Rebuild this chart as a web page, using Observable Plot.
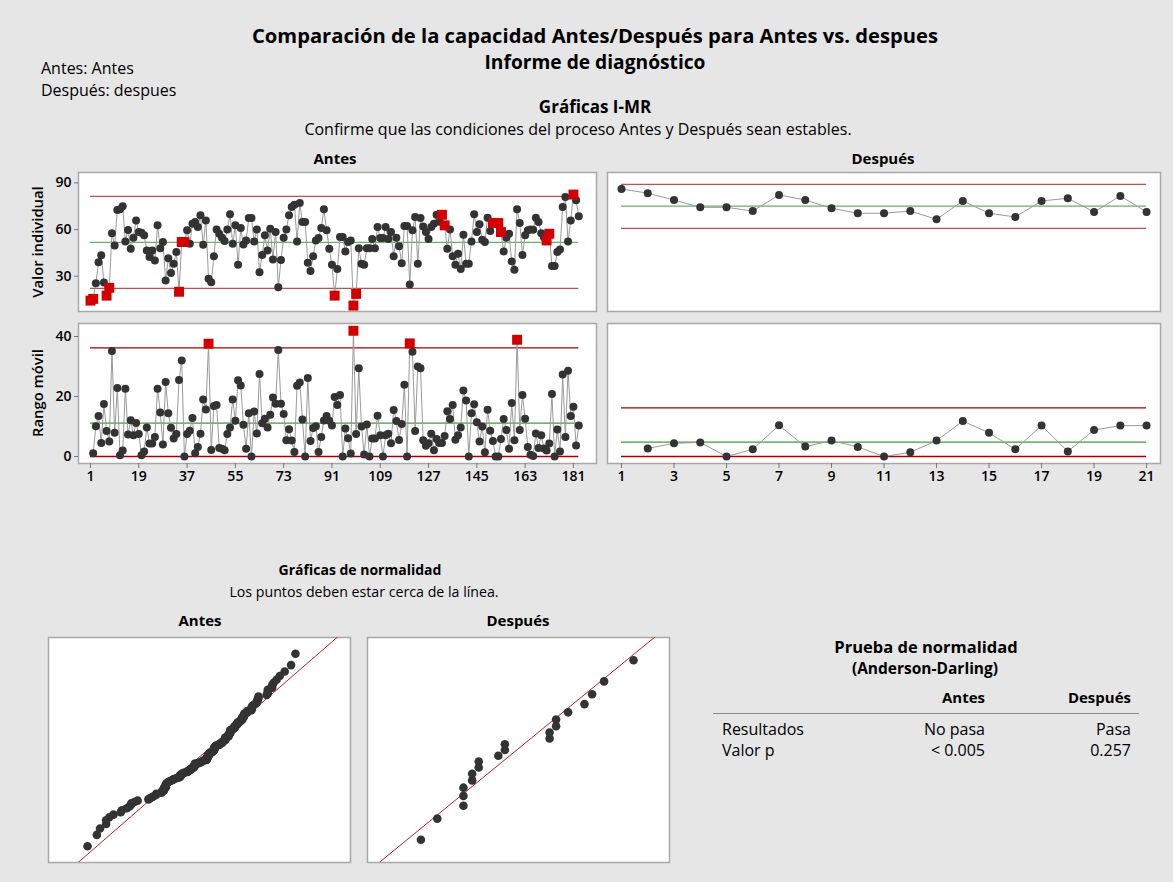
<!DOCTYPE html>
<html><head><meta charset="utf-8">
<script src="https://cdn.jsdelivr.net/npm/d3@7"></script>
<script src="https://cdn.jsdelivr.net/npm/@observablehq/plot@0.6"></script>
<style>
html,body{margin:0;padding:0;background:#e6e6e6;}
#root{position:relative;width:1173px;height:882px;background:#e6e6e6;font-family:"Open Sans",sans-serif;color:#000;overflow:hidden;}
.t{position:absolute;white-space:nowrap;line-height:1;}
.p{position:absolute;}
</style></head><body><div id="root"></div>
<script>
// ---------------- DATA ----------------
const antes = [
  14.3,15.4,25.5,39,43.5,26,17.5,22.5,57.7,49.8,72.6,73,75,52.4,59.7,47.6,54.7,65.9,58.4,58,
  56.3,46.6,42.3,46.6,40.1,62.7,48,52,27.2,41.6,32,38,45.5,20,52,52,59.5,50.9,63.7,64.8,
  61.6,69.2,50.2,65.9,28.3,26.1,
  42.9,60.1,57.3,54.7,52.6,60.1,69.8,50.8,62.7,37.3,61,50.4,53,67.4,67.4,52.4,60.1,32.6,43.7,56.3,
  46.6,60.5,40.8,58.4,22.9,40.5,54.7,60.1,69.2,74.5,76,52.4,77.1,64.8,64.8,38.6,33.4,42.9,53,54.5,
  61,73,59.5,47.6,37.3,17.5,34.7,
  55.2,55.2,45.9,52,53,11.1,18.6,48,38,37.3,48,48,54,48,61.6,54.5,54.5,61.6,54,58.4,
  42.9,54.7,49.2,38.4,62.3,62.3,24.6,59.5,68,38,67.4,62,58.4,54,61.6,63.7,69.5,65,69.5,62.7,
  47.6,60.1,42.9,37.3,44.4,
  34.7,56.7,38,38,52.4,69.8,58.4,63.4,53.4,52,67.6,59,64.2,64.2,64.2,58.4,45.9,54.7,57.3,39.5,
  34.1,73,64.2,43.7,56.3,59.5,60.1,59.9,67.6,64.8,57.7,55,53,57.3,36.5,36.5,45.5,47.2,74.5,81,
  52.4,65.9,82.5,78.8,68.5
];
const antesFlagged = [1,2,7,8,34,35,36,92,99,100,132,133,151,152,153,154,171,172,181];
const despues = [86.1,83.4,79,74.3,74.3,71.9,82.3,79,73.7,70.5,70.5,71.9,66.6,78.4,70.5,68.1,78.4,80.1,71.3,81.6,71.3];

// control limits [LCL, CL, UCL]
const antesILimits = [22.2, 51.7, 81.4];
const antesMRLimits = [0, 11.1, 36.2];
const despuesILimits = [60.7, 75.1, 89.0];
const despuesMRLimits = [0, 4.8, 16.2];

// tick labels
const iTicks = [30, 60, 90];
const mrTicks = [0, 20, 40];
const antesXTicks = [1,19,37,55,73,91,109,127,145,163,181];
const despuesXTicks = [1,3,5,7,9,11,13,15,17,19,21];

// table
const tableHeader = ["", "Antes", "Después"];
const tableRows = [["Resultados", "No pasa", "Pasa"], ["Valor p", "< 0.005", "0.257"]];

// ---------------- HELPERS ----------------
const root = document.getElementById("root");
const FONT = "Open Sans";
function txt(s, x, y, {size=16, weight=400, anchor="middle", rotate=0}={}) {
  const d = document.createElement("div");
  d.className = "t"; d.textContent = s;
  d.style.left = x + "px"; d.style.top = y + "px";
  d.style.fontSize = size + "px"; d.style.fontWeight = weight;
  const tx = anchor === "middle" ? "-50%" : anchor === "end" ? "-100%" : "0";
  d.style.transform = `translate(${tx},-50%)` + (rotate ? ` rotate(${rotate}deg)` : "");
  root.append(d);
}
function panel({left, top, w, h, ml=2, mr=2, mt=2, mb=2, x, y, marks}) {
  const svg = Plot.plot({
    width: ml + w + mr, height: mt + h + mb,
    marginLeft: ml, marginRight: mr, marginTop: mt, marginBottom: mb,
    x: {...x, axis: null}, y: {...y, axis: null},
    style: {background: "transparent", fontFamily: FONT, fontSize: "14px", fontWeight: "600", overflow: "visible"},
    marks
  });
  svg.classList.add("p");
  svg.style.left = (left - ml) + "px";
  svg.style.top = (top - mt) + "px";
  root.append(svg);
}
function limitMarks(lims, n, colRed, colGreen) {
  const mk = (v, c) => Plot.ruleY([v], {x1: () => 1, x2: () => n, stroke: c, strokeWidth: 1.3});
  return [mk(lims[0], colRed), mk(lims[2], colRed), mk(lims[1], colGreen)];
}
function invNorm(p){
  const a=[-3.969683028665376e+01,2.209460984245205e+02,-2.759285104469687e+02,1.383577518672690e+02,-3.066479806614716e+01,2.506628277459239e+00];
  const b=[-5.447609879822406e+01,1.615858368580409e+02,-1.556989798598866e+02,6.680131188771972e+01,-1.328068155288572e+01];
  const c=[-7.784894002430293e-03,-3.223964580411365e-01,-2.400758277161838e+00,-2.549671010243976e+00,4.374664141464968e+00,2.938163982698783e+00];
  const d=[7.784695709041462e-03,3.224671290700398e-01,2.445134137142996e+00,3.754408661907416e+00];
  const pl=0.02425; let q,r;
  if(p<pl){q=Math.sqrt(-2*Math.log(p));return (((((c[0]*q+c[1])*q+c[2])*q+c[3])*q+c[4])*q+c[5])/((((d[0]*q+d[1])*q+d[2])*q+d[3])*q+1);}
  if(p>1-pl){q=Math.sqrt(-2*Math.log(1-p));return -(((((c[0]*q+c[1])*q+c[2])*q+c[3])*q+c[4])*q+c[5])/((((d[0]*q+d[1])*q+d[2])*q+d[3])*q+1);}
  q=p-0.5;r=q*q;return (((((a[0]*r+a[1])*r+a[2])*r+a[3])*r+a[4])*r+a[5])*q/(((((b[0]*r+b[1])*r+b[2])*r+b[3])*r+b[4])*r+1);
}

// ---------------- DERIVED TABLES ----------------
const flagSet = new Set(antesFlagged);
const aI = antes.map((v, k) => ({i: k + 1, v, red: flagSet.has(k + 1)}));
const mrOf = arr => arr.slice(1).map((v, k) => ({i: k + 2, v: Math.abs(v - arr[k])}));
const aMR = mrOf(antes).map(d => ({...d, red: d.v > antesMRLimits[2]}));
const dI = despues.map((v, k) => ({i: k + 1, v}));
const dMR = mrOf(despues);

const DOT = "#333333", LINE = "#9a9a9a", RED = "#d40000", FRAME = "#a8a8a8";
function seriesMarks(data) {
  return [
    Plot.line(data, {x: "i", y: "v", stroke: LINE, strokeWidth: 1}),
    Plot.dot(data.filter(d => !d.red), {x: "i", y: "v", r: 4, fill: DOT}),
    Plot.dot(data.filter(d => d.red), {x: "i", y: "v", r: 5.6, symbol: "square", fill: RED})
  ];
}

// ---------------- TEXT ----------------
txt("Comparación de la capacidad Antes/Después para Antes vs. despues", 595, 35, {size: 20.2, weight: 700});
txt("Informe de diagnóstico", 595, 62, {size: 19.2, weight: 700});
txt("Antes: Antes", 41, 68, {size: 16, anchor: "start"});
txt("Después: despues", 41, 90, {size: 16, anchor: "start"});
txt("Gráficas I-MR", 595, 106, {size: 17, weight: 700});
txt("Confirme que las condiciones del proceso Antes y Después sean estables.", 578, 129, {size: 16});
txt("Antes", 335, 158, {size: 15, weight: 700});
txt("Después", 883, 158, {size: 15, weight: 700});
txt("Valor individual", 37, 242, {size: 14.8, weight: 600, rotate: -90});
txt("Rango móvil", 37, 393, {size: 14.8, weight: 600, rotate: -90});

txt("Gráficas de normalidad", 360, 570, {size: 14, weight: 700});
txt("Los puntos deben estar cerca de la línea.", 364, 592, {size: 14.2});
txt("Antes", 200, 620, {size: 15, weight: 700});
txt("Después", 518, 620, {size: 15, weight: 700});

txt("Prueba de normalidad", 926, 646.5, {size: 16.5, weight: 700});
txt("(Anderson-Darling)", 925, 669, {size: 15.5, weight: 700});
txt(tableHeader[1], 985, 697, {size: 15, weight: 700, anchor: "end"});
txt(tableHeader[2], 1131, 697, {size: 15, weight: 700, anchor: "end"});
tableRows.forEach((r, k) => {
  const y = 729 + k * 21;
  txt(r[0], 722, y, {size: 16, anchor: "start"});
  txt(r[1], 985, y, {size: 16, anchor: "end"});
  txt(r[2], 1131, y, {size: 16, anchor: "end"});
});
const hr = document.createElement("div");
hr.style.cssText = "position:absolute;left:713px;top:713px;width:426px;height:1px;background:#8a8a8a;";
root.append(hr);

// ---------------- CHARTS ----------------
const nA = antes.length, nD = despues.length;
const frame = Plot.frame({fill: "white", stroke: FRAME, strokeWidth: 1.5});

// Antes I
panel({left: 78, top: 172, w: 518, h: 139, ml: 40,
  x: {domain: [-3.47, 189.6]}, y: {domain: [7.3, 96.7]},
  marks: [frame,
    Plot.axisY(iTicks, {anchor: "left", tickSize: 4, tickPadding: 3, stroke: "#777", fontSize: 14, fontWeight: 600, label: null}),
    ...limitMarks(antesILimits, nA, "#c0504d", "#5cb85c"),
    ...seriesMarks(aI)]
});
// Antes MR
panel({left: 78, top: 323, w: 518, h: 140, ml: 40, mb: 26,
  x: {domain: [-3.47, 189.6]}, y: {domain: [-2.33, 44.33]},
  marks: [frame,
    Plot.axisY(mrTicks, {anchor: "left", tickSize: 4, tickPadding: 3, stroke: "#777", fontSize: 14, fontWeight: 600, label: null}),
    Plot.axisX(antesXTicks, {anchor: "bottom", tickSize: 5, tickPadding: 3, stroke: "#777", fontSize: 14, fontWeight: 600, label: null}),
    ...limitMarks(antesMRLimits, nA, "#a50000", "#3e9e3e"),
    ...seriesMarks(aMR)]
});
// Después I
panel({left: 607, top: 172, w: 553, h: 139,
  x: {domain: [0.467, 21.53]}, y: {domain: [7.3, 96.7]},
  marks: [frame,
    ...limitMarks(despuesILimits, nD, "#c0504d", "#5cb85c"),
    ...seriesMarks(dI)]
});
// Después MR
panel({left: 607, top: 323, w: 553, h: 140, mb: 26,
  x: {domain: [0.467, 21.53]}, y: {domain: [-2.33, 44.33]},
  marks: [frame,
    Plot.axisX(despuesXTicks, {anchor: "bottom", tickSize: 5, tickPadding: 3, stroke: "#777", fontSize: 14, fontWeight: 600, label: null}),
    ...limitMarks(despuesMRLimits, nD, "#a50000", "#3e9e3e"),
    ...seriesMarks(dMR)]
});

// Normal probability plots
function probData(arr) {
  const s = arr.slice().sort((a, b) => a - b), n = s.length;
  return s.map((v, k) => ({v, z: invNorm((k + 1 - 0.3) / (n + 0.4))}));
}
function probPanel(arr, left, xdom, zmax) {
  const m = d3.mean(arr), sd = d3.deviation(arr);
  const fit = [-zmax * 1.1, zmax * 1.1].map(z => ({v: m + sd * z, z}));
  panel({left, top: 637, w: 302, h: 225,
    x: {domain: xdom}, y: {domain: [-zmax, zmax]},
    marks: [frame,
      Plot.line(fit, {x: "v", y: "z", stroke: "#b22222", strokeWidth: 1, clip: true}),
      Plot.dot(probData(arr), {x: "v", y: "z", r: 4.3, fill: DOT})]
  });
}
probPanel(antes, 48, [-2.3, 101.4], 3.12);
probPanel(despues, 367, [61.7, 89.4], 2.31);
</script></body></html>
